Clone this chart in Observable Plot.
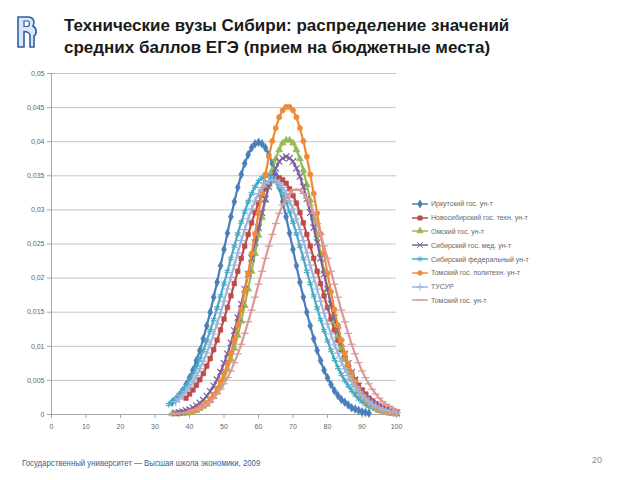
<!DOCTYPE html>
<html><head><meta charset="utf-8">
<script src="https://cdn.jsdelivr.net/npm/d3@7"></script>
<script src="https://cdn.jsdelivr.net/npm/@observablehq/plot@0.6"></script>
<style>
html,body{margin:0;padding:0;background:#fff;}
#page{position:relative;width:640px;height:480px;overflow:hidden;font-family:"Liberation Sans",Arial,sans-serif;}
#logo{position:absolute;left:15px;top:14px;}
#title{position:absolute;left:64px;top:15px;font-size:17px;font-weight:bold;line-height:22px;color:#1a1a1a;white-space:nowrap;}
#chart{position:absolute;left:0;top:0;}
#legend{position:absolute;left:411px;top:197px;font-size:7px;color:#666;}
.item{display:flex;align-items:center;height:13.8px;white-space:nowrap;}
.item svg{margin-right:2px;}
#footer{position:absolute;left:22px;top:457px;font-size:9.5px;color:#3d5b8f;white-space:nowrap;transform:scaleX(0.82);transform-origin:0 0;}
#pagenum{position:absolute;left:592px;top:455px;font-size:9px;color:#8c8c8c;}
</style></head><body>
<div id="page">
<svg id="logo" width="26" height="36" viewBox="0 0 26 36">
  <path d="M3 3 H13 C19 3 20 8 18 12 C22 14 22 20 19 22 V33 H15 V22 C15 19 12 17.5 9 17.5 V33 H3 Z" fill="#dbe6f6" stroke="#2e5fa8" stroke-width="1.6"/>
  <path d="M9 7 H12.5 C15 7 15 12 12.5 12.5 H9 Z" fill="#fff" stroke="#2e5fa8" stroke-width="1.2"/>
</svg>
<div id="title">Технические вузы Сибири: распределение значений<br>средних баллов ЕГЭ (прием на бюджетные места)</div>
<div id="chart"></div>
<div id="legend"></div>
<div id="footer">Государственный университет — Высшая школа экономики, 2009</div>
<div id="pagenum">20</div>
</div>
<script>
// ---- data ----
const seriesNames = [
  "Иркутский гос. ун-т",
  "Новосибирский гос. техн. ун-т",
  "Омский гос. ун-т",
  "Сибирский гос. мед. ун-т",
  "Сибирский федеральный ун-т",
  "Томский гос. политехн. ун-т",
  "ТУСУР",
  "Томский гос. ун-т"
];
const seriesStart = [35, 39, 35, 36, 34, 40, 36, 35]; // first score (x) of each series, step 1
const valueUnit = 0.0001;
const irkutsk = [18,22,28,35,44,54,65,79,94,111,130,150,172,194,218,242,266,290,312,333,352,368,381,391,397,399,397,391,381,368,352,333,312,290,266,242,218,194,172,150,130,111,94,79,65,54,44,35,28,22,18,14,10,8,6,4,3,2];
const novosibirsk = [24,30,36,43,51,60,71,82,95,109,124,140,157,174,192,210,229,247,264,281,296,310,321,331,339,344,347,347,344,339,331,321,310,296,281,264,247,229,210,192,174,157,140,124,109,95,82,71,60,51,43,36,30,24,20,16,13,10,8,6,5,4];
const omsk = [1,1,1,2,2,3,5,6,9,12,15,20,26,34,43,53,66,81,97,116,137,160,184,210,236,263,289,314,337,358,375,388,398,402,402,398,388,375,358,337,314,289,263,236,210,184,160,137,116,97,81,66,53,43,34,26,20,15,12,9,6,5,3,2,2,1];
const sibMed = [2,3,4,6,7,10,13,17,21,27,34,42,51,62,75,89,105,123,142,162,184,206,229,252,274,296,316,334,349,361,371,376,378,376,371,361,349,334,316,296,274,252,229,206,184,162,142,123,105,89,75,62,51,42,34,27,21,17,13,10,7,6,4,3,2];
const sibFed = [15,19,23,29,35,42,50,59,69,81,94,108,123,139,156,174,192,210,229,247,265,282,297,312,324,334,342,347,350,350,347,342,334,324,312,297,282,265,247,229,210,192,174,156,139,123,108,94,81,69,59,50,42,35,29,23,19,15,12,10,8,6,5,4,3,2,2];
const tomskPoly = [4,5,7,10,13,17,23,29,38,48,60,74,90,109,131,154,180,207,236,265,295,324,352,378,401,420,436,446,451,451,446,436,420,401,378,352,324,295,265,236,207,180,154,131,109,90,74,60,48,38,29,23,17,13,10,7,5,4,3,2,1];
const tusur = [19,23,28,34,40,48,57,67,78,90,103,118,133,149,166,184,201,219,237,255,271,287,301,313,324,333,339,343,344,343,339,333,324,313,301,287,271,255,237,219,201,184,166,149,133,118,103,90,78,67,57,48,40,34,28,23,19,15,12,10,8,6,5,4,3];
const tomskState = [1,1,2,2,3,4,6,7,9,12,15,19,24,30,37,45,54,64,76,89,103,119,136,153,172,191,210,229,247,264,280,295,307,317,324,329,330,329,324,317,307,295,280,264,247,229,210,191,172,153,136,119,103,89,76,64,54,45,37,30,24,19,15,12,9,7];
const seriesValues = [irkutsk, novosibirsk, omsk, sibMed, sibFed, tomskPoly, tusur, tomskState];
const xTicks = [0,10,20,30,40,50,60,70,80,90,100];
const xTickLabels = ["0","10","20","30","40","50","60","70","80","90","100"];
const yTicks = [0,0.005,0.01,0.015,0.02,0.025,0.03,0.035,0.04,0.045,0.05];
const yTickLabels = ["0","0,005","0,01","0,015","0,02","0,025","0,03","0,035","0,04","0,045","0,05"];

// ---- styles ----
const seriesColors = ["#4a7ebb","#be4b48","#98b954","#7d60a0","#46aac5","#f08a36","#9fb4da","#dc9896"];
const dash = {draw(ctx, size){ const w = Math.sqrt(size) * 0.75; ctx.moveTo(-w, 0); ctx.lineTo(w, 0); }};
const seriesSymbols = [d3.symbolDiamond, d3.symbolSquare, d3.symbolTriangle, d3.symbolTimes, d3.symbolAsterisk, d3.symbolCircle, d3.symbolPlus, dash];
const filledSymbol = [true, true, true, false, false, true, false, false];

const rowsBySeries = seriesValues.map((vals, i) =>
  vals.map((v, j) => ({name: seriesNames[i], x: seriesStart[i] + j, y: v * valueUnit})));

const marks = [
  Plot.gridY(yTicks, {stroke: "#c4c4c4", strokeOpacity: 1}),
  Plot.ruleX([0], {stroke: "#a6a6a6"}),
  Plot.ruleY([0], {stroke: "#a6a6a6"}),
  Plot.axisY(yTicks, {tickSize: 4, tickPadding: 3, stroke: "#a6a6a6", fill: "#666", fontSize: 7,
    tickFormat: d => yTickLabels[yTicks.indexOf(d)], label: null}),
  Plot.axisX(xTicks, {tickSize: 4, tickPadding: 6, stroke: "#a6a6a6", fill: "#666", fontSize: 7,
    tickFormat: d => xTickLabels[xTicks.indexOf(d)], label: null})
];
rowsBySeries.forEach((rows, i) => {
  marks.push(Plot.line(rows, {x: "x", y: "y", stroke: seriesColors[i], strokeWidth: 2.2}));
  marks.push(Plot.dot(rows, {x: "x", y: "y", symbol: seriesSymbols[i], r: filledSymbol[i] ? 2.6 : 3,
    fill: filledSymbol[i] ? seriesColors[i] : "none", stroke: seriesColors[i], strokeWidth: filledSymbol[i] ? 0.6 : 1.2}));
});

const chart = Plot.plot({
  width: 640, height: 480,
  marginLeft: 51, marginRight: 244, marginTop: 73, marginBottom: 66,
  x: {domain: [0, 100], label: null},
  y: {domain: [0, 0.05], label: null},
  style: {fontFamily: "Liberation Sans, Arial, sans-serif", fontSize: "7px", background: "transparent"},
  marks
});
document.getElementById("chart").appendChild(chart);

// legend
const legend = document.getElementById("legend");
seriesNames.forEach((name, i) => {
  const item = document.createElement("div");
  item.className = "item";
  const p = d3.symbol().type(seriesSymbols[i]).size(filledSymbol[i] ? 16 : 22)();
  const fill = filledSymbol[i] ? seriesColors[i] : "none";
  item.innerHTML = `<svg width="18" height="8"><line x1="1" x2="17" y1="4" y2="4" stroke="${seriesColors[i]}" stroke-width="1.5"/>` +
    `<path transform="translate(9,4)" d="${p}" fill="${fill}" stroke="${seriesColors[i]}" stroke-width="1"/></svg><span>${name}</span>`;
  legend.appendChild(item);
});
</script>
</body></html>
